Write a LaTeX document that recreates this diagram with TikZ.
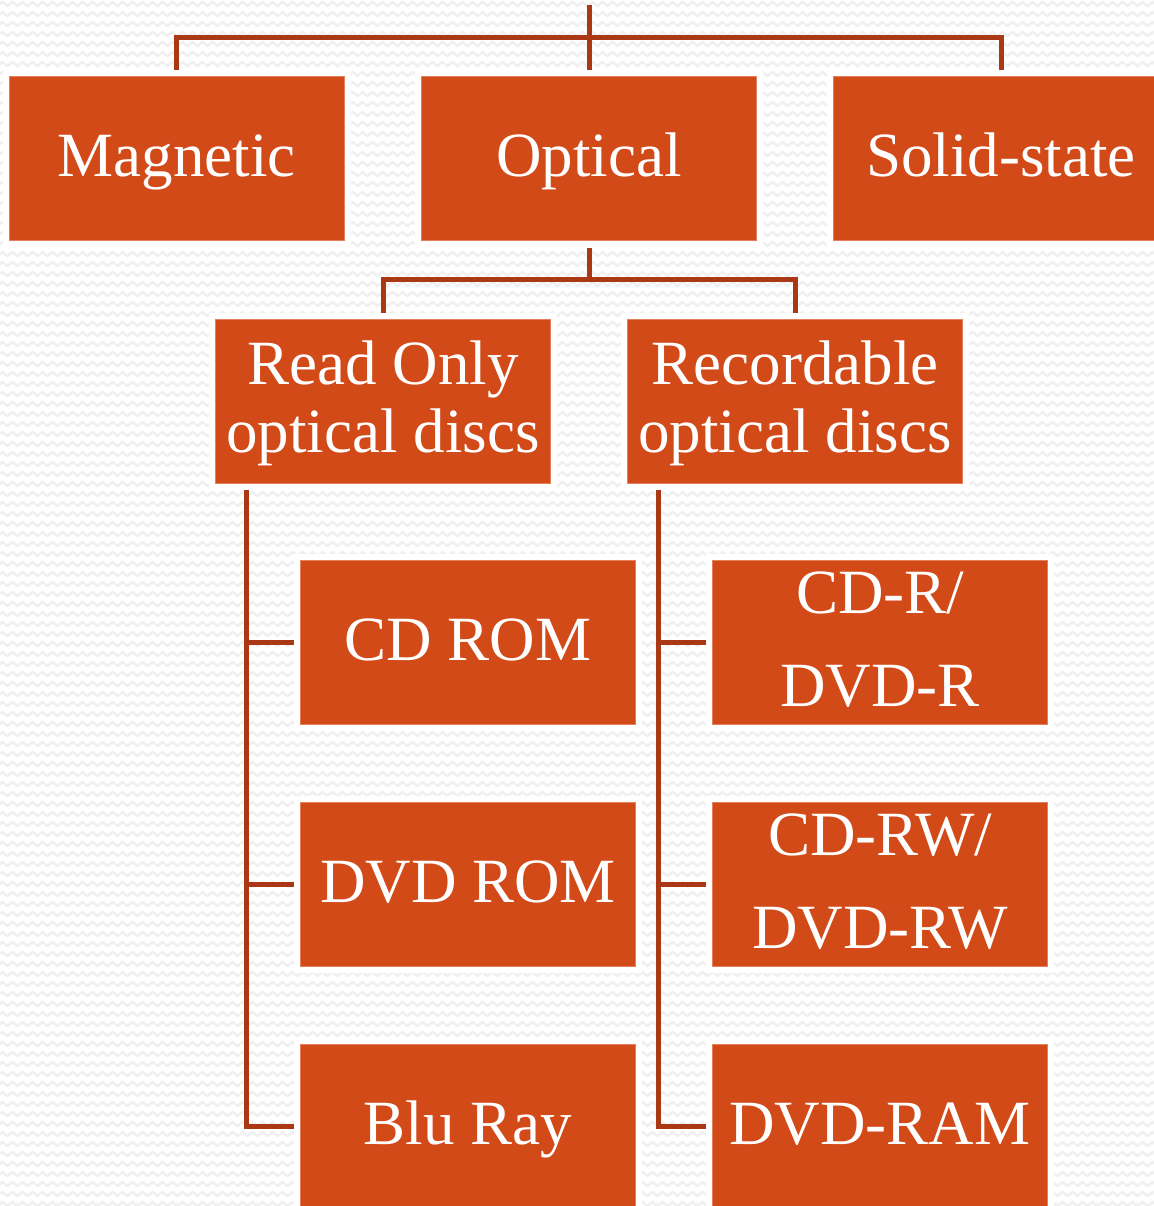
\documentclass[tikz,border=0pt]{standalone}
\usepackage{fontspec}
\setmainfont{Liberation Serif}
\usetikzlibrary{calc,decorations.pathmorphing}

\pgfdeclarelayer{paper}
\pgfdeclarelayer{edges}
\pgfdeclarelayer{halo}
\pgfsetlayers{paper,edges,halo,main}

\definecolor{boxfill}{RGB}{210,74,24}
\definecolor{boxedge}{RGB}{228,128,92}
\definecolor{linkcol}{RGB}{170,56,20}
\definecolor{wavecol}{RGB}{240,240,240}

\tikzset{
  catbox/.style={rectangle, fill=boxfill, draw=boxedge, line width=1pt,
    minimum width=335pt, minimum height=164pt, inner sep=0pt,
    text=white, align=center, font=\fontsize{63}{68}\selectfont,
    text height=42pt, text depth=6pt},
  % two-line labels: the node's baseline is the last line
  pairbox/.style={catbox, font=\fontsize{63}{68}\selectfont, text height=108pt},
  widepair/.style={catbox, font=\fontsize{63}{93}\selectfont, text height=134pt},
  link/.style={draw=linkcol, line width=5pt},
  haloline/.style={draw=white, line width=12pt},
  wave/.style={draw=wavecol, line width=2.5pt,
    decorate, decoration={zigzag, segment length=10pt, amplitude=2pt}}
}

\begin{document}
\begin{tikzpicture}[x=1pt, y=-1pt]
  \useasboundingbox (0,0) rectangle (1153,1206);

  % textured paper
  \begin{pgfonlayer}{paper}
    \fill[white] (0,0) rectangle (1153,1206);
    \foreach \r in {0,...,121}
      \draw[wave] (-10,\r*10+4) -- (1165,\r*10+4);
  \end{pgfonlayer}

  % top level
  \node[catbox] (magnetic) at (176.5,159) {Magnetic};
  \node[catbox] (optical)  at (589,159)   {Optical};
  \node[catbox] (solid)    at (1001,159)  {Solid-state};

  % optical disc families
  \node[pairbox] (readonly)   at (383,401) {Read Only\\optical discs};
  \node[pairbox] (recordable) at (795,401) {Recordable\\optical discs};

  % read-only media
  \node[catbox] (cdrom)  at (468,642.5) {CD ROM};
  \node[catbox] (dvdrom) at (468,884)   {DVD ROM};
  \node[catbox] (bluray) at (468,1126)  {Blu Ray};

  % recordable media
  \node[widepair] (cdr)    at (880,642.5) {CD-R/\\DVD-R};
  \node[widepair] (cdrw)   at (880,884)   {CD-RW/\\DVD-RW};
  \node[catbox]   (dvdram) at (880,1126)  {DVD-RAM};

  \coordinate (root)  at (589,5);
  \coordinate (bus1)  at (589,38);
  \coordinate (bus2)  at (589,279);
  \coordinate (ltrunk) at ($(readonly.south west)+(31,0)$);
  \coordinate (rtrunk) at ($(recordable.south west)+(31,0)$);

  % connectors
  \begin{pgfonlayer}{edges}
    \draw[link] (root) -- (optical.north);
    \draw[link] (magnetic.north) |- (bus1) -| (solid.north);
    \draw[link] (optical.south) -- (bus2);
    \draw[link] (readonly.north) |- (bus2) -| (recordable.north);
    \draw[link] (ltrunk) |- (bluray.west);
    \draw[link] (ltrunk |- cdrom.west) -- (cdrom.west);
    \draw[link] (ltrunk |- dvdrom.west) -- (dvdrom.west);
    \draw[link] (rtrunk) |- (dvdram.west);
    \draw[link] (rtrunk |- cdr.west) -- (cdr.west);
    \draw[link] (rtrunk |- cdrw.west) -- (cdrw.west);
  \end{pgfonlayer}

  % white margins round the boxes
  \begin{pgfonlayer}{halo}
    \foreach \n in {magnetic,optical,solid,readonly,recordable,
                    cdrom,dvdrom,bluray,cdr,cdrw,dvdram}
      \draw[haloline] (\n.south west) rectangle (\n.north east);
  \end{pgfonlayer}
\end{tikzpicture}
\end{document}
